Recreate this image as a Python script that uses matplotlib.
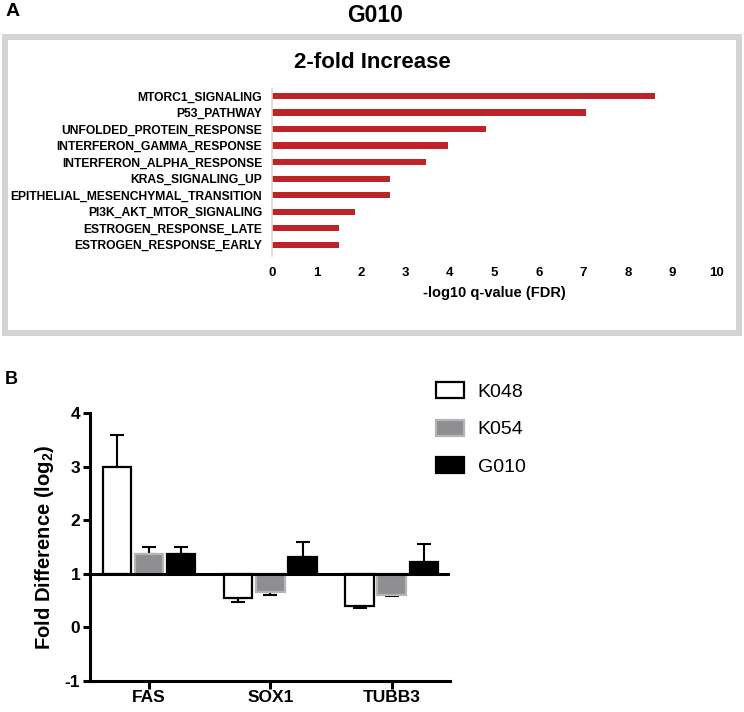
import matplotlib
matplotlib.use("Agg")
import numpy as np
import matplotlib.pyplot as plt
from matplotlib.patches import Rectangle

plt.rcParams['font.family'] = ['Liberation Sans', 'DejaVu Sans']
plt.rcParams['mathtext.fontset'] = 'custom'
plt.rcParams['mathtext.rm'] = 'Liberation Sans'
plt.rcParams['mathtext.bf'] = 'Liberation Sans:bold'

# panel A data
pathways = ["MTORC1_SIGNALING", "P53_PATHWAY", "UNFOLDED_PROTEIN_RESPONSE",
            "INTERFERON_GAMMA_RESPONSE", "INTERFERON_ALPHA_RESPONSE",
            "KRAS_SIGNALING_UP", "EPITHELIAL_MESENCHYMAL_TRANSITION",
            "PI3K_AKT_MTOR_SIGNALING", "ESTROGEN_RESPONSE_LATE",
            "ESTROGEN_RESPONSE_EARLY"]
neg_log_q = [8.6, 7.06, 4.81, 3.96, 3.45, 2.66, 2.66, 1.87, 1.50, 1.50]
x_ticks_a = list(range(0, 11))

# panel B data
genes = ["FAS", "SOX1", "TUBB3"]
lines = ["K048", "K054", "G010"]
k048 = [3.0, 0.55, 0.39]
k054 = [1.37, 0.65, 0.61]
g010 = [1.37, 1.32, 1.22]
k048_err = [0.6, 0.07, 0.03]
k054_err = [0.13, 0.05, 0.03]
g010_err = [0.13, 0.27, 0.33]
y_ticks_b = [-1, 0, 1, 2, 3, 4]

W, H = 744, 712
fig = plt.figure(figsize=(W / 100, H / 100), dpi=100)


def fx(px):
    return px / W


def fy(py):
    return 1 - py / H


# ---------------- panel A ----------------
fig.text(fx(6), fy(11), "A", fontsize=14, fontweight='bold', va='center', ha='left')
fig.text(fx(375), fy(15), "G010", fontsize=16.5, fontweight='bold', va='center', ha='center')
fig.patches.append(Rectangle((fx(4.5), fy(333)), fx(739) - fx(4.5), fy(37) - fy(333),
                             transform=fig.transFigure, fill=False,
                             edgecolor='#d4d4d4', linewidth=4.3))
fig.text(fx(372), fy(62), "2-fold Increase", fontsize=16, fontweight='bold',
         va='center', ha='center')

ax1 = fig.add_axes([fx(272), fy(256), fx(717) - fx(272), (256 - 89) / H])
pos = np.arange(len(pathways))
ax1.barh(pos, neg_log_q, height=0.37, color='#bd2329')
ax1.set_ylim(9.68, -0.42)
ax1.set_xlim(0, 10)
ax1.set_yticks(pos)
ax1.set_yticklabels(pathways, fontsize=8.7, fontweight='bold')
ax1.set_xticks(x_ticks_a)
ax1.set_xticklabels([str(t) for t in x_ticks_a], fontsize=9.5, fontweight='bold')
ax1.tick_params(length=0)
ax1.tick_params(axis='y', pad=7)
ax1.tick_params(axis='x', pad=8)
for s in ['top', 'right', 'bottom']:
    ax1.spines[s].set_visible(False)
ax1.spines['left'].set_color('#d8d8d8')
ax1.spines['left'].set_linewidth(1.2)
ax1.set_xlabel("-log10 q-value (FDR)", fontsize=10.5, fontweight='bold', labelpad=5)

# ---------------- panel B ----------------
fig.text(fx(5), fy(379), "B", fontsize=13, fontweight='bold', va='center', ha='left')

ax2 = fig.add_axes([fx(90), fy(680.7), fx(450) - fx(90), (680.7 - 413.3) / H])
x = np.arange(len(genes))
width = 0.235
offset = 0.265
series = [(k048, k048_err, 'white', 'black'),
          (k054, k054_err, '#8f8f93', '#b5b5b5'),
          (g010, g010_err, 'black', 'black')]
for i, (vals, errs, fc, ec) in enumerate(series):
    vals = np.array(vals)
    errs = np.array(errs)
    xs = x + (i - 1) * offset
    up = np.where(vals >= 1, errs, 0)
    dn = np.where(vals < 1, errs, 0)
    ax2.errorbar(xs, vals, yerr=[dn, up], fmt='none', ecolor='black',
                 elinewidth=1.5, capsize=5, capthick=1.5, zorder=1)
    ax2.bar(xs, vals - 1, bottom=1, width=width, color=fc, edgecolor=ec,
            linewidth=1.6, label=lines[i], zorder=2)
ax2.axhline(1, color='black', linewidth=2.2, zorder=3)
ax2.set_ylim(-1, 4)
ax2.set_xlim(-0.486, 2.48)
ax2.set_yticks(y_ticks_b)
ax2.set_yticklabels([str(t) for t in y_ticks_b], fontsize=12.5, fontweight='bold')
ax2.set_xticks(x)
ax2.set_xticklabels(genes, fontsize=12.5, fontweight='bold')
ax2.tick_params(axis='y', length=5, width=2.2, pad=2)
ax2.tick_params(axis='x', length=6, width=2.2, pad=1)
for s in ['top', 'right']:
    ax2.spines[s].set_visible(False)
for s in ['left', 'bottom']:
    ax2.spines[s].set_linewidth(2.2)
ax2.set_ylabel(r"Fold Difference (log$_{\mathbf{2}}$)", fontsize=14.5,
               fontweight='bold', labelpad=6)

handles, labels = ax2.get_legend_handles_labels()
fig.legend(handles, labels, loc='upper left', bbox_to_anchor=(fx(436), fy(382)),
           frameon=False, fontsize=14, handlelength=1.44, handleheight=0.88,
           handletextpad=0.7, labelspacing=0.98, borderpad=0, borderaxespad=0)

fig.savefig("out.png", dpi=100)
